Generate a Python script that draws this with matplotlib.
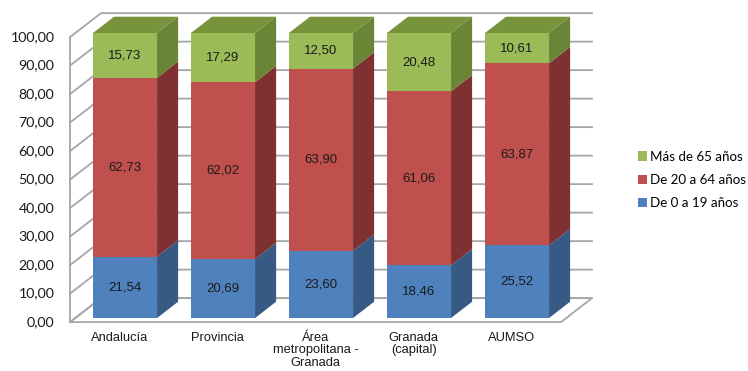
import matplotlib
matplotlib.use("Agg")
import matplotlib.pyplot as plt
from matplotlib.patches import Polygon, Patch

categories = ["Andalucía", "Provincia", "Área\nmetropolitana -\nGranada", "Granada\n(capital)", "AUMSO"]
young = [21.54, 20.69, 23.60, 18.46, 25.52]      # De 0 a 19 años
adult = [62.73, 62.02, 63.90, 61.06, 63.87]      # De 20 a 64 años
senior = [15.73, 17.29, 12.50, 20.48, 10.61]     # Más de 65 años
series_names = ["De 0 a 19 años", "De 20 a 64 años", "Más de 65 años"]
yticks = [0, 10, 20, 30, 40, 50, 60, 70, 80, 90, 100]

front_cols = ["#4F81BD", "#C0504D", "#9BBB59"]
side_cols = ["#365A84", "#7E3130", "#6A8535"]
top_col = "#77933C"
grid_col = "#A6A6A6"

W, H = 748, 371
fig = plt.figure(figsize=(W / 100, H / 100), dpi=100)
ax = fig.add_axes([0, 0, 1, 1])
ax.axis("off")
# pixel mapping: category 0 at x=125 px, 98 px per category; v=0 at y=318 px, 2.85 px/unit
ax.set_xlim(-125 / 98, (W - 125) / 98)
ax.set_ylim((318 - H) / 2.85, 318 / 2.85)

DX, DY = 0.316, 8.4     # full depth offset
d0, d1 = 0.17, 0.85     # bar depth span
hw = 0.327              # bar half-width
xL, xR = -0.507, 4.503


def P(x, v, d):
    return (x + (d - d0) * DX, v + (d - d0) * DY)


# walls
back = Polygon([P(xL, 0, 1), P(xR, 0, 1), P(xR, 100, 1), P(xL, 100, 1)], closed=True,
               facecolor="white", edgecolor="none", zorder=0)
ax.add_patch(back)
floor = Polygon([P(xL, 0, 0), P(xR, 0, 0), P(xR, 0, 1), P(xL, 0, 1)], closed=True,
                facecolor="white", edgecolor=grid_col, lw=1.3, zorder=1)
ax.add_patch(floor)
ax.plot(*zip(P(xL, 0, 0), P(xL, 100, 0)), color=grid_col, lw=1.3, zorder=1)
for t in yticks:
    pts = [P(xL, t, 0), P(xL, t, 1), P(xR, t, 1)]
    ax.plot([p[0] for p in pts], [p[1] for p in pts], color=grid_col, lw=1.3, zorder=1)
    lx, ly = P(xL, t, 0)
    ax.text(lx - 0.16, ly, f"{t:.2f}".replace(".", ","), ha="right", va="center",
            fontsize=10.2, family="Lato", color="#1a1a1a")

# bars
series = [young, adult, senior]
bottoms = [0.0] * len(categories)
for s, vals in enumerate(series):
    ax.bar(range(len(categories)), vals, bottom=bottoms, width=2 * hw,
           color=front_cols[s], edgecolor="none", zorder=3, label=series_names[s])
    for i, v in enumerate(vals):
        b = bottoms[i]
        t = b + v
        side = Polygon([P(i + hw, b, d0), P(i + hw, t, d0), P(i + hw, t, d1), P(i + hw, b, d1)],
                       closed=True, facecolor=side_cols[s], edgecolor="none", zorder=2)
        ax.add_patch(side)
        if s == len(series) - 1:
            top = Polygon([P(i - hw, t, d0), P(i + hw, t, d0), P(i + hw, t, d1), P(i - hw, t, d1)],
                          closed=True, facecolor=top_col, edgecolor="none", zorder=2)
            ax.add_patch(top)
        ax.text(i, b + v / 2, f"{v:.2f}".replace(".", ","), ha="center", va="center",
                fontsize=9.5, family="Liberation Sans", color="#1a1a1a", zorder=4)
    bottoms = [bottoms[i] + vals[i] for i in range(len(vals))]

# category labels
for i, c in enumerate(categories):
    x, y = P(i, 0, 0)
    ax.text(x, y - 3.4, c, ha="center", va="top", fontsize=9.3, family="Liberation Sans",
            color="#1a1a1a", linespacing=1.05)

leg_handles = [Patch(facecolor=front_cols[s], edgecolor="none") for s in (2, 1, 0)]
leg_labels = [series_names[s] for s in (2, 1, 0)]
fig.legend(leg_handles, leg_labels, loc="center left", bbox_to_anchor=(631 / W, 1 - 180 / H),
           frameon=False, prop={"family": "Lato", "size": 9.6}, handlelength=0.7,
           handleheight=0.7, handletextpad=0.25, labelspacing=0.85, borderpad=0)

fig.savefig("out.png", dpi=100)
